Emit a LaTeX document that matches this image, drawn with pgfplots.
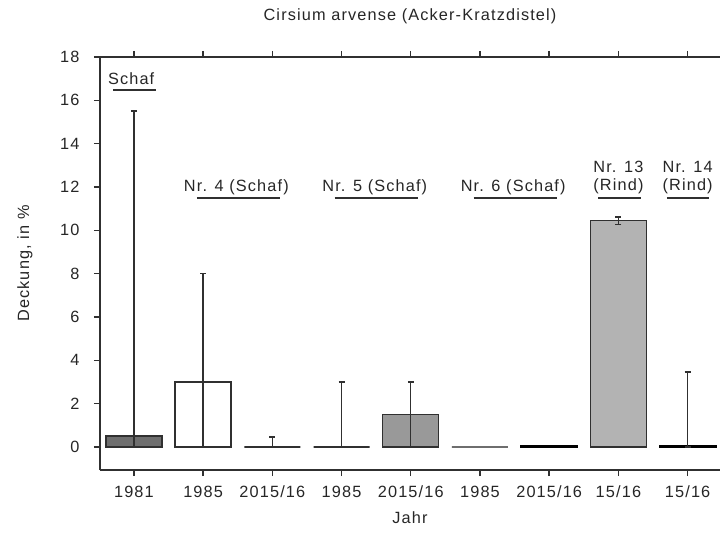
\documentclass[border=0pt]{standalone}
\usepackage{pgfplots}
\pgfplotsset{compat=1.18}
\usepackage{fontspec}
\setmainfont{Liberation Sans}[LetterSpace=7]
\definecolor{txt}{HTML}{262626}
\definecolor{edge}{HTML}{303030}
\definecolor{cdark}{HTML}{6E6E6E}
\definecolor{cmid}{HTML}{999999}
\definecolor{clight}{HTML}{B3B3B3}
\pgfplotsset{
  ebar/.style={error bars/.cd, y dir=#1, y explicit,
    error bar style={line width=1.4bp, draw=edge},
    error mark options={line width=1.4bp, mark size=3bp, draw=edge, rotate=90}},
  mybar/.style={ybar, bar shift=0pt, bar width=56bp, draw=edge, line width=1.4bp},
}
\begin{document}
\fontsize{16.3bp}{19.5bp}\selectfont
\begin{tikzpicture}
\begin{axis}[
  name=ax, at={(0,0)}, anchor=south west,
  scale only axis, width=620bp, height=413bp,
  xmin=-0.49, xmax=8.468, ymin=-1.06, ymax=18,
  clip=false,
  axis x line=box, axis y line=left,
  every outer y axis line/.append style={-},
  y axis line style={-},
  axis line style={draw=edge, line width=1.4bp},
  tick align=outside, major tick length=6bp,
  tick style={draw=edge, line width=1.4bp},
  xtick pos=both, xticklabel pos=lower,
  ytick={0,2,...,18},
  xtick={0,1,...,8},
  xticklabels={1981,1985,2015/16,1985,2015/16,1985,2015/16,15/16,15/16},
  ticklabel style={text=txt, font=\fontsize{16.3bp}{19.5bp}\selectfont},
  /pgf/number format/assume math mode=true,
  yticklabel style={xshift=-9bp},
  xticklabel style={yshift=-4bp},
]
% 1981 Schaf
\addplot[mybar, fill=cdark, ebar=both]
  coordinates {(0,0.5) += (0,15.0) -= (0,0.5)};
% 1985 Nr.4
\addplot[mybar, fill=white, ebar=both]
  coordinates {(1,3.0) += (0,5.0) -= (0,3.0)};
% 2015/16 Nr.4
\addplot[mybar, fill=white, ebar=plus]
  coordinates {(2,0) += (0,0.47)};
% 1985 Nr.5
\addplot[mybar, fill=white, ebar=plus]
  coordinates {(3,0) += (0,3.0)};
% 2015/16 Nr.5
\addplot[mybar, fill=cmid, ebar=both]
  coordinates {(4,1.5) += (0,1.5) -= (0,1.5)};
% 1985 Nr.6
\addplot[mybar, fill=cdark, draw=cdark]
  coordinates {(5,0)};
% 2015/16 Nr.6
\addplot[mybar, fill=black, draw=black, line width=1.8bp]
  coordinates {(6,0.04)};
% 15/16 Nr.13
\addplot[mybar, fill=clight, ebar=both]
  coordinates {(7,10.45) +- (0,0.17)};
% 15/16 Nr.14
\addplot[mybar, fill=black, draw=black, line width=1.8bp, ebar=both]
  coordinates {(8,0.04) += (0,3.43) -= (0,0.04)};

% group annotations
\node[anchor=base, text=txt] at (axis cs:-0.04,16.75) {Schaf};
\draw[edge, line width=1.4bp] (axis cs:-0.30,16.47) -- (axis cs:0.32,16.47);
\node[anchor=base, text=txt] at (axis cs:1.48,11.78) {Nr. 4 (Schaf)};
\draw[edge, line width=1.4bp] (axis cs:0.91,11.49) -- (axis cs:2.11,11.49);
\node[anchor=base, text=txt] at (axis cs:3.48,11.78) {Nr. 5 (Schaf)};
\draw[edge, line width=1.4bp] (axis cs:2.90,11.49) -- (axis cs:4.10,11.49);
\node[anchor=base, text=txt] at (axis cs:5.48,11.78) {Nr. 6 (Schaf)};
\draw[edge, line width=1.4bp] (axis cs:4.91,11.49) -- (axis cs:6.11,11.49);
\node[anchor=base, text=txt] at (axis cs:7.0,12.68) {Nr. 13};
\node[anchor=base, text=txt] at (axis cs:7.0,11.83) {(Rind)};
\draw[edge, line width=1.4bp] (axis cs:6.71,11.49) -- (axis cs:7.33,11.49);
\node[anchor=base, text=txt] at (axis cs:8.0,12.68) {Nr. 14};
\node[anchor=base, text=txt] at (axis cs:8.0,11.83) {(Rind)};
\draw[edge, line width=1.4bp] (axis cs:7.70,11.49) -- (axis cs:8.31,11.49);
\end{axis}
\node[anchor=base, text=txt] at ([yshift=36bp]ax.north) {Cirsium arvense (Acker-Kratzdistel)};
\node[rotate=90, text=txt] at ([xshift=-75bp]ax.west) {Deckung, in \%};
\node[text=txt] at ([yshift=-48bp]ax.south) {Jahr};
\pgfresetboundingbox
\path[use as bounding box] (-100bp,-65bp) rectangle (620bp,470bp);
\end{tikzpicture}
\end{document}
